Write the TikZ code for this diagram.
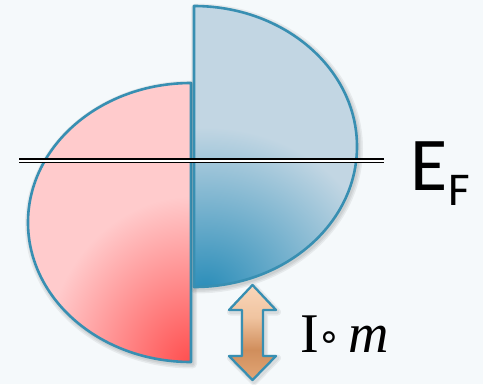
\documentclass[tikz,border=0pt]{standalone}
\usepackage{fontspec}
\setmainfont{Liberation Serif}
\newfontfamily\calib{Carlito}
\newfontfamily\djv{DejaVu Sans}
\definecolor{bg}{RGB}{245,249,251}
\definecolor{edge}{RGB}{56,143,178}
\definecolor{blight}{RGB}{194,214,227}
\definecolor{bdark}{RGB}{40,140,184}
\definecolor{plight}{RGB}{255,203,204}
\definecolor{pdark}{RGB}{255,74,74}
\definecolor{atop}{RGB}{249,214,186}
\definecolor{amid}{RGB}{240,196,160}
\definecolor{adark}{RGB}{208,142,92}
\definecolor{abot}{RGB}{226,166,118}
\pgfdeclareverticalshading{arrowshade}{100bp}{color(0bp)=(abot); color(25bp)=(abot); color(41bp)=(adark); color(58bp)=(amid); color(75bp)=(atop); color(100bp)=(atop)}
\begin{document}
\begin{tikzpicture}[x=1pt,y=-1pt,
  outline/.style={draw=edge, line width=2.6pt, line join=round},
  fermi/.style={draw=black, line width=1.3pt, double=white, double distance=2pt},
  shadowline/.style={draw=black, opacity=0.06, line join=round}]
\fill[bg] (0,0) rectangle (483,384);
\useasboundingbox (0,0) rectangle (483,384);

% shadows of pink half
\foreach \w in {9,6,3}
  \draw[shadowline, line width=\w pt, shift={(1.5,2)}] (191,83) arc[start angle=-90, end angle=-270, x radius=163, y radius=139.5] -- cycle;
% pink half
\begin{scope}
  \clip (191,83) arc[start angle=-90, end angle=-270, x radius=163, y radius=139.5] -- cycle;
  \fill[plight] (0,0) rectangle (483,384);
  \shade[inner color=pdark, outer color=plight] (193,368) ellipse [x radius=150, y radius=172];
\end{scope}
\draw[outline] (191,83) arc[start angle=-90, end angle=-270, x radius=163, y radius=139.5] -- cycle;

% shadows of blue half
\foreach \w in {9,6,3}
  \draw[shadowline, line width=\w pt, shift={(1.5,2)}] (194,6) arc[start angle=-90, end angle=90, x radius=163, y radius=140.5] -- cycle;
% blue half
\begin{scope}
  \clip (194,6) arc[start angle=-90, end angle=90, x radius=163, y radius=140.5] -- cycle;
  \fill[blight] (0,0) rectangle (483,384);
  \shade[inner color=bdark, outer color=blight] (205,292) ellipse [x radius=180, y radius=165];
\end{scope}
\draw[outline] (194,6) arc[start angle=-90, end angle=90, x radius=163, y radius=140.5] -- cycle;

% Fermi level
\coordinate (fl) at (19,160.5);
\coordinate (fr) at (384,160.5);
\draw[fermi] (fl) -- (fr);
\node[anchor=base west, inner sep=0, font=\calib\fontsize{76}{76}\selectfont] (ef) at (410,190) {E\hspace{1pt}\raisebox{-15pt}{\fontsize{47}{47}\selectfont F}};

% double arrow
\foreach \w in {7,4}
  \draw[shadowline, line width=\w pt, shift={(1.5,2)}] (252.5,285) -- (276,310) -- (263,310) -- (263,356) -- (276,356) -- (252.5,380) -- (229,356) -- (242,356) -- (242,310) -- (229,310) -- cycle;
\shade[shading=arrowshade] (252.5,285) -- (276,310) -- (263,310) -- (263,356) -- (276,356) -- (252.5,380) -- (229,356) -- (242,356) -- (242,310) -- (229,310) -- cycle;
\draw[outline, line width=2.3pt, miter limit=10] (252.5,285) -- (276,310) -- (263,310) -- (263,356) -- (276,356) -- (252.5,380) -- (229,356) -- (242,356) -- (242,310) -- (229,310) -- cycle;

\node[anchor=base west, inner sep=0, font=\fontsize{56}{56}\selectfont] (im) at (300,352) {I\hspace{-1pt}\raisebox{3pt}{\djv\fontsize{38}{38}\selectfont ∘}\hspace{7pt}\textit{m}};
\end{tikzpicture}
\end{document}
